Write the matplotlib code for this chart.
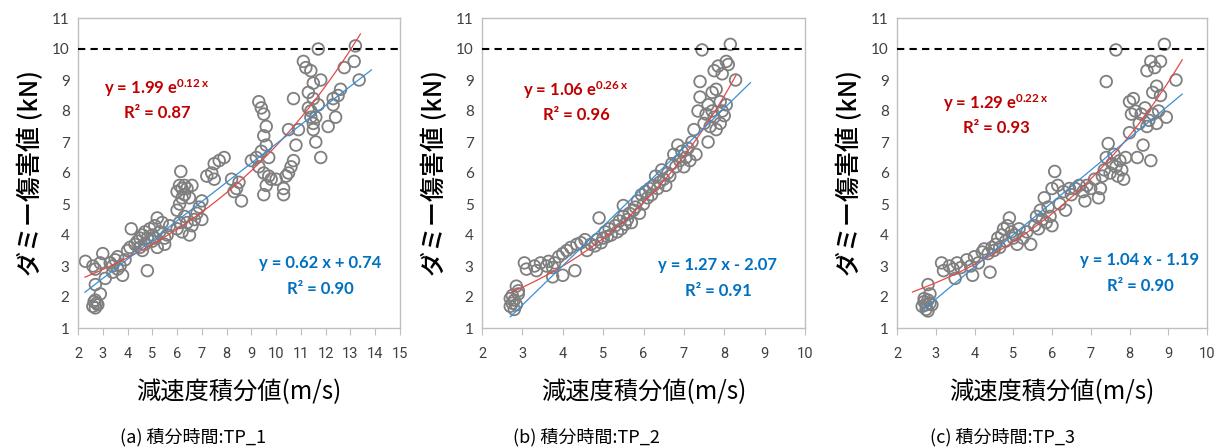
import numpy as np
import matplotlib.pyplot as plt

# --- data ---
# (a) TP_1
x1 = [2.3, 2.6, 2.7, 2.9, 3.0, 2.7, 2.9, 2.6, 2.7, 2.75, 2.65, 2.8, 2.7, 3.1, 3.3, 3.4, 3.5, 3.4, 3.6, 3.7, 3.8, 3.9, 3.6,
      4.0, 4.1, 4.15, 4.3, 4.4, 4.5, 4.5, 4.6, 4.7, 4.7, 4.8, 4.8, 4.9, 5.0, 5.0, 5.1, 5.2, 5.1, 5.3, 5.4, 5.5, 5.5, 5.6, 5.7, 4.6, 5.2,
      6.0, 6.1, 6.2, 6.0, 6.1, 6.2, 6.0, 6.1, 6.2, 6.3, 6.3, 6.15, 6.4, 6.5, 6.3, 6.4, 6.5, 6.6, 6.7, 6.8, 6.9, 7.0, 7.0, 6.6,
      7.2, 7.4, 7.5, 7.7, 7.9, 7.5, 8.2, 8.4, 8.6, 8.5, 8.3,
      9.0, 9.2, 9.3, 9.4, 9.5, 9.3, 9.4, 9.5, 9.6, 9.5, 9.6, 9.7, 9.5, 9.6, 9.7, 9.8, 10.0, 10.3, 10.3, 10.4, 10.5, 10.5, 10.6, 10.7, 10.8, 10.9, 10.7,
      11.1, 11.2, 11.4, 11.3, 11.5, 11.3, 11.4, 11.5, 11.6, 11.4, 11.7, 11.5, 11.6, 11.8, 11.7, 11.8, 11.5,
      12.1, 12.3, 12.4, 12.5, 12.6, 12.3, 12.75, 13.15, 13.2, 13.35]
y1 = [3.15, 3.0, 2.9, 3.1, 3.4, 2.4, 2.1, 1.7, 1.65, 1.8, 1.85, 1.75, 1.9, 2.6, 3.1, 3.0, 3.2, 2.8, 2.9, 3.0, 2.7, 3.2, 3.3,
      3.5, 3.6, 4.2, 3.7, 3.8, 3.6, 3.9, 4.0, 3.7, 4.1, 3.9, 2.85, 4.2, 3.8, 4.0, 4.3, 4.55, 3.9, 4.1, 4.4, 3.7, 3.9, 4.0, 4.3, 3.5, 3.6,
      4.2, 4.4, 4.1, 4.8, 5.0, 5.2, 5.4, 5.6, 5.5, 5.3, 5.6, 6.05, 5.5, 5.2, 4.6, 4.4, 4.0, 4.3, 4.5, 4.7, 4.9, 5.1, 4.5, 5.6,
      5.9, 6.0, 6.3, 6.4, 6.5, 5.8, 5.8, 5.5, 5.1, 5.7, 5.4,
      6.4, 6.5, 6.2, 6.7, 6.0, 8.3, 8.1, 7.9, 7.5, 7.2, 6.9, 6.5, 5.3, 5.6, 5.9, 5.8, 5.8, 5.3, 5.5, 5.9, 6.0, 7.4, 6.2, 6.4, 6.9, 7.4, 8.4,
      9.6, 9.4, 9.3, 8.6, 8.9, 8.1, 7.8, 7.6, 7.8, 8.0, 8.2, 8.4, 7.0, 6.5, 10.0, 9.0, 7.4,
      7.5, 8.2, 7.8, 8.5, 8.7, 8.4, 9.4, 9.6, 10.1, 9.0]

# (b) TP_2
x2 = [2.7, 2.75, 2.8, 2.7, 2.85, 2.8, 2.75, 2.9, 2.85, 2.9,
      3.05, 3.1, 3.3, 3.35, 3.45, 3.6, 3.65, 3.75, 3.8, 3.75, 4.0, 3.9, 4.0, 4.1, 4.2, 4.3, 4.35, 4.45, 4.55, 4.6, 4.7, 4.8, 4.85, 4.9, 4.95, 5.0, 5.05, 5.1, 5.15, 5.2,
      5.3, 5.35, 5.4, 5.45, 5.5, 5.5, 5.55, 5.6, 5.65, 5.7, 5.75, 5.8, 5.85, 5.9, 5.95, 6.0, 6.05, 6.1, 6.15, 6.2, 6.25, 6.3, 6.35, 6.4, 6.45, 6.5, 6.55, 6.6, 6.65, 6.7, 6.75, 6.8, 6.85, 6.9, 6.95, 7.0, 7.05, 7.1, 7.15, 7.2, 7.25, 7.3,
      7.35, 7.4, 7.4, 7.45, 7.5, 7.55, 7.6, 7.6, 7.65, 7.7, 7.7, 7.75, 7.75, 7.8, 7.8, 7.85, 7.9, 7.9, 7.95, 7.95, 8.0, 8.05, 8.1, 8.05, 8.15, 8.28]
y2 = [1.7, 1.8, 1.9, 1.95, 1.75, 1.6, 2.05, 2.1, 2.35, 2.2,
      3.1, 2.9, 3.0, 2.85, 3.1, 3.0, 3.15, 2.95, 3.1, 2.65, 2.7, 3.3, 3.4, 3.5, 3.6, 2.85, 3.7, 3.75, 3.85, 3.5, 3.7, 3.65, 3.85, 4.55, 3.75, 3.9, 4.1, 3.95, 4.2, 4.0,
      4.3, 4.1, 4.45, 4.2, 4.95, 4.6, 4.35, 4.5, 4.7, 4.4, 4.8, 4.9, 5.1, 4.7, 5.3, 5.0, 5.4, 5.2, 5.5, 5.3, 5.6, 5.9, 5.5, 5.7, 6.1, 5.8, 5.6, 6.0, 5.9, 6.3, 6.6, 6.2, 6.9, 6.4, 6.7, 6.2, 6.5, 6.8, 6.4, 7.0, 7.4, 6.6,
      8.0, 8.45, 8.95, 9.97, 7.6, 7.9, 7.0, 8.2, 7.5, 8.6, 8.0, 7.8, 9.3, 7.4, 8.7, 9.45, 8.3, 7.6, 9.2, 8.0, 7.85, 9.6, 9.5, 8.2, 10.15, 9.0]

# (c) TP_3
x3 = [2.65, 2.7, 2.75, 2.8, 2.75, 2.85, 2.7, 2.8, 2.9, 2.85, 2.8,
      3.15, 3.2, 3.35, 3.45, 3.5, 3.55, 3.65, 3.8, 3.9, 3.95, 4.0, 4.1, 4.2, 4.25, 4.35, 4.4, 4.45, 4.5, 4.55, 4.6, 4.65, 4.7, 4.75, 4.8, 4.85, 4.9, 4.95, 5.0, 5.05, 5.1, 5.15, 5.25, 5.35, 5.45,
      5.55, 5.6, 5.65, 5.7, 5.75, 5.8, 5.85, 5.9, 5.95, 6.0, 6.0, 6.07, 6.15, 6.2, 6.3, 6.35, 6.45, 6.5, 6.6, 6.7, 6.8, 6.85, 6.9, 7.0, 7.1, 7.2, 7.25,
      7.3, 7.35, 7.4, 7.4, 7.45, 7.5, 7.55, 7.6, 7.65, 7.65, 7.7, 7.75, 7.8, 7.85, 7.9, 8.0, 8.0, 8.05, 8.1, 8.15, 8.2, 8.25, 8.3, 8.35, 8.4, 8.45, 8.45, 8.5, 8.55, 8.55, 8.6, 8.6, 8.65, 8.7, 8.7, 8.75, 8.8, 8.8, 8.9, 8.95, 9.2]
y3 = [1.7, 1.85, 1.6, 1.9, 1.75, 1.8, 1.95, 1.55, 1.75, 2.1, 2.4,
      3.1, 2.85, 3.0, 2.9, 2.6, 3.1, 2.95, 3.2, 3.0, 2.7, 3.3, 3.1, 3.45, 3.55, 3.4, 2.8, 3.6, 3.5, 3.7, 3.9, 3.6, 4.0, 4.2, 3.8, 4.3, 4.55, 4.1, 3.9, 4.0, 3.7, 4.2, 3.9, 4.1, 3.7,
      4.3, 4.6, 4.2, 4.8, 4.5, 5.2, 4.4, 4.9, 4.6, 5.5, 4.3, 6.05, 5.6, 5.0, 5.4, 4.8, 5.5, 5.3, 5.5, 5.6, 5.4, 5.1, 5.6, 5.5, 5.8, 5.2, 5.5,
      5.9, 6.1, 6.5, 8.95, 6.95, 6.0, 6.3, 6.6, 9.97, 6.2, 5.9, 6.4, 6.1, 5.8, 6.5, 7.3, 8.3, 7.9, 8.4, 8.0, 6.5, 7.6, 7.9, 6.9, 8.1, 7.5, 9.3, 7.7, 6.4, 9.6, 8.6, 7.9, 9.4, 8.8, 7.6, 8.0, 9.6, 8.5, 10.15, 7.8, 9.0]

# fitted trend coefficients (y = a*exp(b*x), y = m*x + c) and the x span of each trend line
exp_fits = [(1.99, 0.124), (1.06, 0.26), (1.29, 0.215)]
lin_fits = [(0.62, 0.74), (1.27, -2.07), (1.04, -1.19)]
exp_span = [(2.28, 13.4), (2.7, 8.3), (2.4, 9.36)]
lin_span = [(2.28, 13.85), (2.7, 8.65), (2.63, 9.36)]

exp_labels = [('1.99', '0.12', '0.87'), ('1.06', '0.26', '0.96'), ('1.29', '0.22', '0.93')]
lin_labels = [('0.62 x + 0.74', '0.90'), ('1.27 x - 2.07', '0.91'), ('1.04 x - 1.19', '0.90')]
xmaxs = [15, 10, 10]
captions = ['(a) 積分時間:TP_1', '(b) 積分時間:TP_2', '(c) 積分時間:TP_3']
limit = 10

plt.rcParams['mathtext.fontset'] = 'custom'
plt.rcParams['mathtext.rm'] = 'Lato:bold'
plt.rcParams['mathtext.it'] = 'Lato:bold'
plt.rcParams['mathtext.bf'] = 'Lato:bold'

W, H = 1218, 448
fig = plt.figure(figsize=(W / 100, H / 100), dpi=100)

# axes boxes in pixels: left, right
boxes = [(78, 400), (482, 805), (897, 1207)]
top, bottom = 18, 328
# text positions (pixels)
red_pos = [(157, 88), (576, 90), (996, 103)]
blue_pos = [(320, 263), (718, 265), (1140, 260)]
cap_x = [120, 513, 930]

data = [(x1, y1), (x2, y2), (x3, y3)]
RED = '#c00000'
BLUE = '#0070c0'
JP = ['Noto Sans CJK JP', 'DejaVu Sans']

for i in range(3):
    l, r = boxes[i]
    ax = fig.add_axes([l / W, 1 - bottom / H, (r - l) / W, (bottom - top) / H])
    xs, ys = data[i]
    ax.scatter(xs, ys, s=70, facecolors='none', edgecolors='#7f7f7f', linewidths=1.3, zorder=2)

    a, b = exp_fits[i]
    xe = np.linspace(exp_span[i][0], exp_span[i][1], 200)
    ax.plot(xe, a * np.exp(b * xe), color='#e24a4a', lw=0.9, zorder=3)
    m, c = lin_fits[i]
    xl = np.array(lin_span[i])
    ax.plot(xl, m * xl + c, color='#3b8fd4', lw=0.9, zorder=3)

    ax.axhline(limit, color='black', lw=1.5, ls=(0, (3.5, 2.5)), zorder=4, clip_on=False)

    ax.set_xlim(2, xmaxs[i])
    ax.set_ylim(1, 11)
    ax.set_xticks(range(2, xmaxs[i] + 1))
    ax.set_yticks(range(1, 12))
    for s in ax.spines.values():
        s.set_color('#bfbfbf')
        s.set_linewidth(1.0)
    ax.tick_params(axis='x', length=5, color='#bfbfbf', pad=9, labelsize=10.5, labelcolor='#404040')
    ax.tick_params(axis='y', length=0, pad=6, labelsize=11, labelcolor='#404040')
    for t in ax.get_xticklabels():
        t.set_family(['Liberation Sans Narrow', 'Roboto', 'DejaVu Sans'])
    for t in ax.get_yticklabels():
        t.set_family('Lato')

    ax.set_ylabel('ダミー傷害値 (kN)', family=JP, fontsize=18, weight='medium', labelpad=6)
    ax.set_xlabel('減速度積分値(m/s)', family=JP, fontsize=17.5, labelpad=13)

    # trend equations
    cx, cy = red_pos[i]
    ea, eb, er = exp_labels[i]
    fig.text(cx / W, 1 - cy / H, 'y = %s e$^{%s\\,x}$' % (ea, eb), color=RED, fontsize=12,
             family='Lato', weight='bold', ha='center', va='center')
    fig.text(cx / W, 1 - (cy + 25) / H, 'R² = %s' % er, color=RED, fontsize=12,
             family='Lato', weight='bold', ha='center', va='center')
    bx, by = blue_pos[i]
    eq, br = lin_labels[i]
    fig.text(bx / W, 1 - by / H, 'y = %s' % eq, color=BLUE, fontsize=12,
             family='Lato', weight='bold', ha='center', va='center')
    fig.text(bx / W, 1 - (by + 26) / H, 'R² = %s' % br, color=BLUE, fontsize=12,
             family='Lato', weight='bold', ha='center', va='center')

    fig.text(cap_x[i] / W, 1 - 437 / H, captions[i], family=JP,
             fontsize=13, ha='left', va='center')

fig.savefig('out.png', dpi=100)
